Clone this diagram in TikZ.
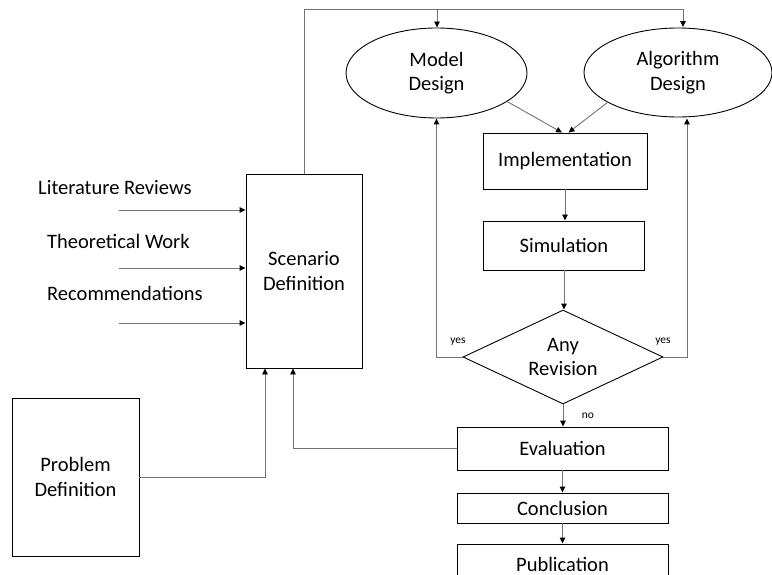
\documentclass[tikz,border=0pt]{standalone}
\usepackage{fontspec}
\setmainfont{Carlito}
\usetikzlibrary{shapes.geometric,arrows.meta}

\tikzset{
  txt/.style={font=\fontsize{20.5}{24.5}\selectfont},
  box/.style={txt, draw=black, line width=0.9pt, rectangle, inner sep=0pt, align=center},
  oval/.style={txt, draw=black, line width=0.9pt, ellipse, inner sep=0pt, align=center},
  decision/.style={draw=black, line width=0.9pt, diamond, inner sep=0pt},
  caption/.style={txt, inner sep=0pt, align=center},
  link/.style={draw=black!55, line width=0.9pt},
  flow/.style={link, -{Triangle[length=6pt,width=5.5pt,color=black]}},
  source/.style={txt, anchor=base west, inner sep=0pt},
  tag/.style={inner sep=0pt, font=\fontsize{11.5}{13}\selectfont},
}

\begin{document}
\begin{tikzpicture}[x=1pt, y=-1pt]
  \clip (0,0) rectangle (772,575);
  \useasboundingbox (0,0) rectangle (772,575);

  % main boxes
  \node[box, minimum width=116, minimum height=194] (scen) at (304,271) {Scenario\\Definition};
  \node[box, minimum width=127, minimum height=158] (prob) at (75.5,477) {Problem\\Definition};
  \node[oval, minimum width=181, minimum height=90] (model) at (436.5,73) {Model\\Design};
  \node[oval, minimum width=188, minimum height=89] (algo) at (678,72.5) {Algorithm\\Design};
  \node[box, minimum width=164, minimum height=56] (impl) at (565,161) {Implementation};
  \node[box, minimum width=161, minimum height=49] (sim) at (564,245.5) {Simulation};
  \node[decision, minimum width=200, minimum height=94] (dia) at (563,357) {};
  \node[caption] (diatext) at (dia.center) {Any\\Revision};
  \node[box, minimum width=211, minimum height=43] (eval) at (562.5,448.5) {Evaluation};
  \node[box, minimum width=211, minimum height=30] (conc) at (562.5,508) {Conclusion};
  \node[box, minimum width=211, minimum height=40] (pub) at (562.5,564) {Publication};

  % inputs to the scenario
  \node[source] (lit) at (38,195) {Literature Reviews};
  \node[source] (theo) at (47,249) {Theoretical Work};
  \node[source] (rec) at (47,300) {Recommendations};
  \coordinate (in1) at (119,210);
  \coordinate (in2) at (119,268);
  \coordinate (in3) at (119,323);
  \draw[flow] (in1) -- (in1 -| scen.west);
  \draw[flow] (in2) -- (in2 -| scen.west);
  \draw[flow] (in3) -- (in3 -| scen.west);

  % scenario feeds both design stages
  \coordinate (t1) at (437,9);
  \coordinate (t2) at (683,9);
  \draw[link] (scen.north) |- (t2);
  \draw[flow] (t1) -- (t1 |- model.north);
  \draw[flow] (t2) -- ([yshift=0.5]t2 |- algo.north);

  % designs into implementation
  \draw[flow] (model.-22) -- ([xshift=-3]impl.north);
  \draw[flow] (algo.-157) -- ([xshift=3.5]impl.north);

  % main chain
  \draw[flow] (impl.south) -- (impl.south |- sim.north);
  \draw[flow] (sim.south) -- (sim.south |- dia.north);
  \draw[flow] (dia.south) -- (dia.south |- eval.north);
  \draw[flow] (eval.south) -- (conc.north);
  \draw[flow] (conc.south) -- (pub.north);

  % revision loops
  \coordinate (ya) at (687,357);
  \draw[flow] (dia.west) -| (model.south);
  \draw[flow] (dia.east) -- (ya) -- ([yshift=-1]ya |- algo.south);
  \node[tag] (yesl) at (458,342) {yes};
  \node[tag] (yesr) at (663,342) {yes};
  \node[tag] (no) at (588,416) {no};

  % feedback into the scenario
  \draw[flow] (eval.west) -| ([xshift=-11]scen.south);
  \draw[flow] (prob.east) -| ([xshift=-39]scen.south);
\end{tikzpicture}
\end{document}
